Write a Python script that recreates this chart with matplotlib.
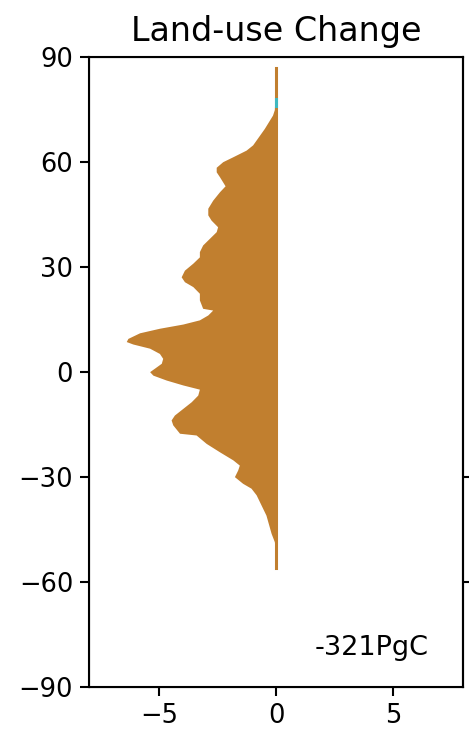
import numpy as np
import matplotlib
matplotlib.use("Agg")
import matplotlib.pyplot as plt


# zonal profile of land-use carbon change
lat = [87.0, 75.0, 73.4, 69.6, 64.9, 63.4, 61.5, 60.1, 58.5, 57.2, 55.8,
       53.2, 51.5, 49.1, 46.8, 44.9, 43.4, 41.5, 40.1, 38.2, 36.3, 34.4,
       32.9, 31.1, 29.1, 27.2, 25.8, 24.4, 22.5, 20.6, 18.2, 17.7, 16.3,
       14.9, 13.7, 12.5, 11.2, 9.6, 8.7, 8.0, 6.8, 5.3, 3.9, 2.5, 1.1, 0.1,
       -0.9, -2.3, -3.7, -4.9, -6.6, -8.5, -10.4, -12.3, -13.7, -15.1,
       -17.5, -18.0, -20.4, -22.8, -25.1, -26.6, -28.0, -29.9, -31.8,
       -33.2, -35.1, -38.0, -40.9, -44.2, -46.1, -48.5, -52.0, -56.0]
change = [0.0, -0.07, -0.15, -0.5, -1.0, -1.28, -1.85, -2.28, -2.56, -2.56,
          -2.42, -2.18, -2.42, -2.71, -2.92, -2.92, -2.78, -2.5, -2.56,
          -2.85, -3.14, -3.28, -3.28, -3.56, -3.92, -4.06, -3.92, -3.56,
          -3.28, -3.28, -3.14, -2.71, -2.92, -3.28, -3.99, -4.99, -5.84,
          -6.34, -6.41, -6.13, -5.41, -4.99, -4.85, -4.91, -5.2, -5.41,
          -5.27, -4.7, -3.99, -3.28, -3.35, -3.63, -3.99, -4.35, -4.49,
          -4.42, -4.13, -3.42, -2.99, -2.42, -1.85, -1.57, -1.64, -1.78,
          -1.43, -1.07, -0.85, -0.64, -0.43, -0.29, -0.21, -0.07, -0.02, 0.0]
line_lat = [87.0, -56.0]
total_label = "-321PgC"

xticks = [-5, 0, 5]
yticks = [-90, -60, -30, 0, 30, 60, 90]

col = "#C17F2F"

fig = plt.figure(figsize=(4.69, 7.33), dpi=100)
ax = fig.add_axes([0.19, 0.0628, 0.797, 0.8594])

ax.fill_betweenx(lat, change, 0, color=col, linewidth=0)
ax.plot([0, 0], line_lat, color=col, linewidth=2.2)
ax.plot([0, 0], [76.0, 78.0], color="#3FB8C0", linewidth=2.2)

ax.set_xlim(-8, 8)
ax.set_ylim(-90, 90)
ax.set_xticks(xticks)
ax.set_yticks(yticks)
ax.tick_params(labelsize=18.5, length=6.5, width=1.5, pad=5)
for s in ax.spines.values():
    s.set_linewidth(1.5)

ax.set_title("Land-use Change", fontsize=24, pad=11.5)
ax.text(0.907, 0.05, total_label, transform=ax.transAxes, ha="right",
        va="baseline", fontsize=19.5)

# stubs of the neighbouring panel's ticks at the cut edge
ax2 = ax.twinx()
ax2.set_ylim(-90, 90)
ax2.set_yticks([-60, -30])
ax2.tick_params(labelright=False, length=6.5, width=1.5)
ax2.spines["right"].set_linewidth(1.5)

fig.savefig("out.png", dpi=100)
